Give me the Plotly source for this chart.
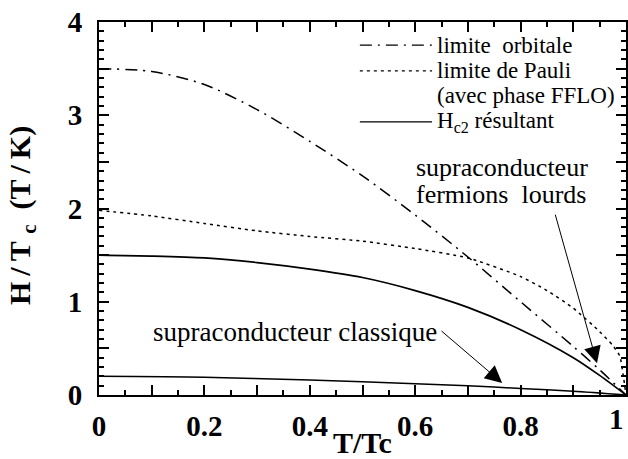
import plotly.graph_objects as go

# ---- data ----
T_orb = [0, 0.1, 0.2, 0.3, 0.4, 0.5, 0.6, 0.7, 0.8, 0.9, 0.95, 1.0]
H_orb = [3.5, 3.47, 3.33, 3.06, 2.72, 2.35, 1.93, 1.48, 1.0, 0.52, 0.27, 0.0]

T_pauli = [0, 0.1, 0.2, 0.3, 0.4, 0.5, 0.6, 0.7, 0.8, 0.85, 0.9, 0.95, 0.975, 0.988, 0.995, 1.0]
H_pauli = [1.98, 1.92, 1.84, 1.76, 1.70, 1.65, 1.57, 1.47, 1.27, 1.12, 0.93, 0.68, 0.53, 0.42, 0.2, 0.0]

T_hc2 = [0, 0.1, 0.2, 0.3, 0.4, 0.5, 0.6, 0.7, 0.8, 0.9, 0.95, 1.0]
H_hc2 = [1.5, 1.49, 1.47, 1.42, 1.35, 1.26, 1.12, 0.94, 0.70, 0.40, 0.21, 0.0]

T_cls = [0, 0.2, 0.4, 0.5, 0.6, 0.7, 0.8, 0.9, 1.0]
H_cls = [0.2, 0.19, 0.16, 0.143, 0.12, 0.10, 0.07, 0.04, 0.0]

x_tickvals = [0, 0.1, 0.2, 0.3, 0.4, 0.5, 0.6, 0.7, 0.8, 0.9, 1.0]
x_ticktext = ["0", "", "0.2", "", "0.4", "", "0.6", "", "0.8", "", ""]
x_last_label = "1"   # drawn right-aligned at x = 1 so it stays inside the page
y_tickvals = [0, 0.5, 1, 1.5, 2, 2.5, 3, 3.5, 4]
y_ticktext = ["0", "", "1", "", "2", "", "3", "", "4"]

x_title = "T/Tc"
y_title = "H\u2009/\u2009T\u00a0<sub>c</sub>\u00a0\u00a0(T\u2009/\u2009K)"
legend_labels = ["limite  orbitale", "limite de Pauli", "(avec phase FFLO)", "H<sub>c2</sub> résultant"]
ann_classique = "supraconducteur classique"
ann_lourds = ["supraconducteur", "fermions  lourds"]

FONT = "Liberation Serif"
BLACK = "black"
DASHDOT = "12px,6px,2px,6px"
DOTS = "3px,4px"

fig = go.Figure()
fig.add_trace(go.Scatter(x=T_orb, y=H_orb, mode="lines", line=dict(color=BLACK, width=1.5, dash=DASHDOT, shape="spline", smoothing=0.8)))
fig.add_trace(go.Scatter(x=T_pauli, y=H_pauli, mode="lines", line=dict(color=BLACK, width=1.5, dash=DOTS, shape="spline", smoothing=0.6)))
fig.add_trace(go.Scatter(x=T_hc2, y=H_hc2, mode="lines", line=dict(color=BLACK, width=1.7, shape="spline", smoothing=0.8)))
fig.add_trace(go.Scatter(x=T_cls, y=H_cls, mode="lines", line=dict(color=BLACK, width=1.5, shape="spline", smoothing=0.8)))

# legend (manual): rows in paper coordinates
leg_rows = [0.938, 0.869, 0.802, 0.732]
samples = [(DASHDOT, leg_rows[0]), (DOTS, leg_rows[1]), ("solid", leg_rows[3])]
for dash, yy in samples:
    fig.add_shape(type="line", xref="paper", yref="paper", x0=0.495, x1=0.632, y0=yy, y1=yy,
                  line=dict(color=BLACK, width=1.3, dash=dash))
for txt, yy in zip(legend_labels, leg_rows):
    fig.add_annotation(xref="paper", yref="paper", x=0.638, y=yy, text=txt, showarrow=False,
                       xanchor="left", yanchor="middle", font=dict(family=FONT, size=23, color=BLACK))

# text annotations
fig.add_annotation(x=0.372, y=0.68, text=ann_classique, showarrow=False, xanchor="center", yanchor="middle",
                   font=dict(family=FONT, size=27, color=BLACK))
for txt, yy in zip(ann_lourds, [2.44, 2.15]):
    fig.add_annotation(x=0.597, y=yy, text=txt, showarrow=False, xanchor="left", yanchor="middle",
                       font=dict(family=FONT, size=26, color=BLACK))
# arrows
fig.add_annotation(x=0.765, y=0.13, ax=0.647, ay=0.70, axref="x", ayref="y", text="", showarrow=True,
                   arrowhead=2, arrowsize=3.4, arrowwidth=1, arrowcolor=BLACK, standoff=0)
fig.add_annotation(x=0.945, y=0.34, ax=0.865, ay=1.95, axref="x", ayref="y", text="", showarrow=True,
                   arrowhead=2, arrowsize=3.4, arrowwidth=1, arrowcolor=BLACK, standoff=0)

# axis titles placed as annotations
titlefont = dict(family=FONT, size=30, color=BLACK, weight="bold")
tickfont = dict(family=FONT, size=29, color=BLACK, weight="bold")
fig.add_annotation(xref="paper", yref="paper", x=0.5, y=-0.127, text=x_title, showarrow=False,
                   xanchor="center", yanchor="middle", font=titlefont)
fig.add_annotation(xref="paper", yref="paper", x=-0.146, y=0.48, text=y_title, showarrow=False,
                   textangle=-90, xanchor="center", yanchor="middle", font=titlefont)
fig.add_annotation(xref="x", yref="paper", x=1.0, y=0, yshift=-6, text=x_last_label, showarrow=False,
                   xanchor="right", yanchor="top", font=tickfont)

axis_common = dict(showline=True, linecolor=BLACK, linewidth=2, mirror="ticks", ticks="inside",
                   tickcolor=BLACK, tickwidth=1.5, ticklen=10, showgrid=False, zeroline=False,
                   ticklabeloverflow="allow", automargin=False)

fig.update_xaxes(range=[0, 1], tickmode="array", tickvals=x_tickvals, ticktext=x_ticktext,
                 minor=dict(dtick=0.05, ticks="inside", ticklen=5, tickcolor=BLACK, tickwidth=1.5),
                 ticklabelstandoff=4, tickfont=tickfont, **axis_common)
fig.update_yaxes(range=[0, 4], tickmode="array", tickvals=y_tickvals, ticktext=y_ticktext,
                 minor=dict(dtick=0.1, ticks="inside", ticklen=5, tickcolor=BLACK, tickwidth=1.5),
                 ticklabelstandoff=9, tickfont=tickfont, **axis_common)

fig.update_layout(width=628, height=459, margin=dict(l=99, r=2, t=22, b=64, autoexpand=False),
                  plot_bgcolor="white", paper_bgcolor="white", showlegend=False,
                  font=dict(family=FONT, color=BLACK))

fig.write_html("out.html")
